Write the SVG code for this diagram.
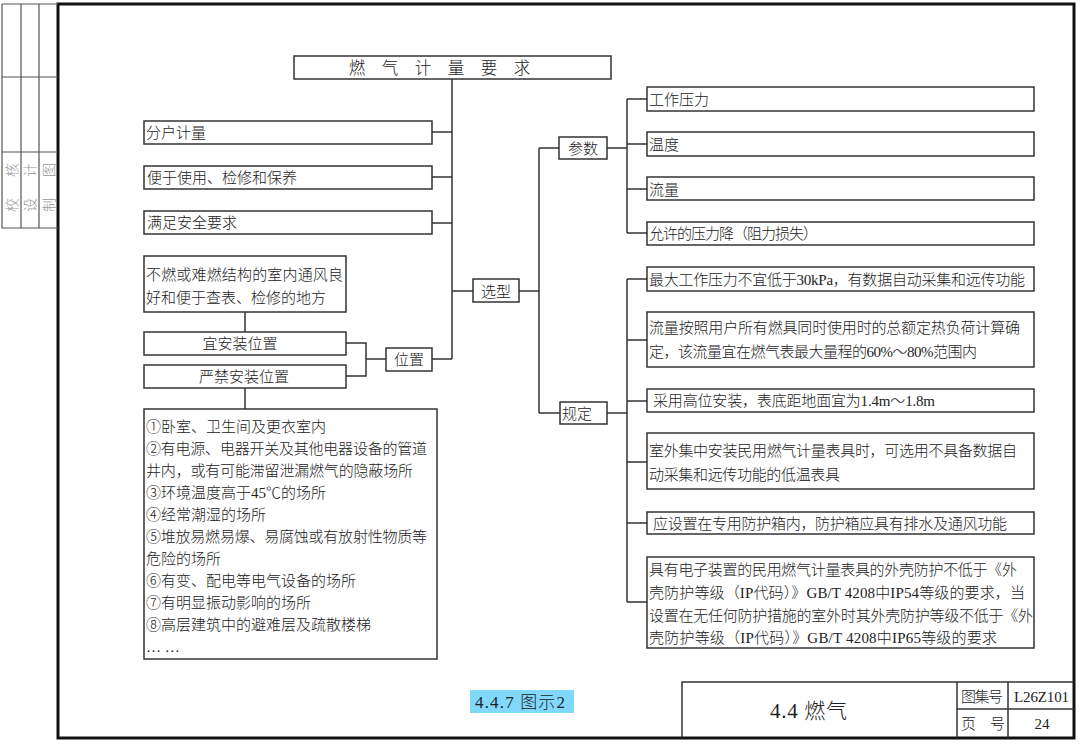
<svg xmlns="http://www.w3.org/2000/svg" width="1080" height="744" viewBox="0 0 1080 744">
<style>
.box{fill:#fff;stroke:#333;stroke-width:1.5}
.ln{fill:none;stroke:#333;stroke-width:1.5}
.frm{fill:none;stroke:#111;stroke-width:3}
.thin{fill:none;stroke:#555;stroke-width:1.2}
.t{font-family:"Liberation Serif","Noto Sans CJK SC",serif;font-size:15px;font-weight:300;fill:#222}
.m{text-anchor:middle}
.g{font-family:"Noto Sans CJK SC",sans-serif;font-size:14px;font-weight:300;fill:#999;text-anchor:middle}
</style>
<rect width="1080" height="744" fill="#fff"/>
<g id="frame">
<path class="frm" d="M58 4H1074V738H58Z"/>
<path class="thin" d="M2 4H58M2 4V228H58M21 4V228M39 4V228M2 77H58M2 152H58"/>
<text class="g" transform="translate(16.5 205) rotate(-90)">校</text>
<text class="g" transform="translate(16.5 170) rotate(-90)">核</text>
<text class="g" transform="translate(35 205) rotate(-90)">设</text>
<text class="g" transform="translate(35 170) rotate(-90)">计</text>
<text class="g" transform="translate(53.5 205) rotate(-90)">制</text>
<text class="g" transform="translate(53.5 170) rotate(-90)">图</text>
</g>
<g id="connectors">
<path class="ln" d="M452 79V359M432 132H452M432 177H452M432 223H452M452 291H473M432 359H452"/>
<path class="ln" d="M519 291H539M539 148V413M539 148H559M539 413H560"/>
<path class="ln" d="M607 148H627M627 99V233M627 99H647M627 144H647M627 189H647M627 233H647"/>
<path class="ln" d="M607 413H627M627 279V602M627 279H647M627 340H647M627 401H647M627 462H647M627 523H647M627 602H647"/>
<path class="ln" d="M245 312V332M245 388V409M346 343H366V376H346M366 359H386"/>
</g>
<g id="n-title">
<rect class="box" x="294" y="56" width="317" height="23"/>
<text class="t m" x="357 390 423 456 489 522" y="73.5" style="font-size:16.5px">燃气计量要求</text>
</g>
<g id="n-fenhu"><rect class="box" x="144" y="121" width="288" height="23"/><text class="t" x="146" y="137.5">分户计量</text></g>
<g id="n-bianyu"><rect class="box" x="144" y="166" width="288" height="23"/><text class="t" x="147" y="182.5">便于使用、检修和保养</text></g>
<g id="n-manzu"><rect class="box" x="144" y="211" width="288" height="23"/><text class="t" x="147" y="228">满足安全要求</text></g>
<g id="n-buran"><rect class="box" x="144" y="256" width="202" height="56"/>
<text class="t" x="146" y="279.5" textLength="197">不燃或难燃结构的室内通风良</text>
<text class="t" x="146" y="302.5">好和便于查表、检修的地方</text></g>
<g id="n-yi"><rect class="box" x="144" y="332" width="202" height="23"/><text class="t m" x="240" y="348.5">宜安装位置</text></g>
<g id="n-yanjin"><rect class="box" x="144" y="365" width="202" height="23"/><text class="t m" x="244" y="381.5">严禁安装位置</text></g>
<g id="n-weizhi"><rect class="box" x="386" y="348" width="46" height="23"/><text class="t m" x="409" y="364.5">位置</text></g>
<g id="n-xuanxing"><rect class="box" x="473" y="279" width="46" height="23"/><text class="t m" x="496" y="296.5">选型</text></g>
<g id="n-canshu"><rect class="box" x="559" y="137" width="48" height="22"/><text class="t m" x="583" y="153.5">参数</text></g>
<g id="n-guiding"><rect class="box" x="560" y="402" width="47" height="22"/><text class="t" x="562" y="418.5">规定</text></g>
<g id="n-list"><rect class="box" x="144" y="409" width="293" height="250"/>
<text class="t" x="146" y="431.5">①卧室、卫生间及更衣室内</text>
<text class="t" x="146" y="453.5" textLength="281">②有电源、电器开关及其他电器设备的管道</text>
<text class="t" x="146" y="475.5" textLength="267">井内，或有可能滞留泄漏燃气的隐蔽场所</text>
<text class="t" x="146" y="497.5">③环境温度高于45℃的场所</text>
<text class="t" x="146" y="519.5">④经常潮湿的场所</text>
<text class="t" x="146" y="541.5" textLength="281">⑤堆放易燃易爆、易腐蚀或有放射性物质等</text>
<text class="t" x="146" y="563.5">危险的场所</text>
<text class="t" x="146" y="585.5">⑥有变、配电等电气设备的场所</text>
<text class="t" x="146" y="607.5">⑦有明显振动影响的场所</text>
<text class="t" x="146" y="629.5">⑧高层建筑中的避难层及疏散楼梯</text>
<text class="t" x="146" y="651.5">… …</text>
</g>
<g id="n-p1"><rect class="box" x="647" y="87" width="387" height="24"/><text class="t" x="649" y="104.5">工作压力</text></g>
<g id="n-p2"><rect class="box" x="647" y="132" width="387" height="24"/><text class="t" x="649" y="149.5">温度</text></g>
<g id="n-p3"><rect class="box" x="647" y="177" width="387" height="23"/><text class="t" x="649" y="194.5">流量</text></g>
<g id="n-p4"><rect class="box" x="647" y="222" width="387" height="23"/><text class="t" x="649" y="238.5" textLength="169">允许的压力降（阻力损失）</text></g>
<g id="n-r1"><rect class="box" x="647" y="267" width="387" height="24"/><text class="t" x="649" y="284.5" textLength="376">最大工作压力不宜低于30kPa，有数据自动采集和远传功能</text></g>
<g id="n-r2"><rect class="box" x="647" y="312" width="387" height="55"/>
<text class="t" x="649" y="333" textLength="371">流量按照用户所有燃具同时使用时的总额定热负荷计算确</text>
<text class="t" x="649" y="356.5" textLength="328">定，该流量宜在燃气表最大量程的60%～80%范围内</text></g>
<g id="n-r3"><rect class="box" x="647" y="389" width="387" height="23"/><text class="t" x="653" y="405.5" textLength="282">采用高位安装，表底距地面宜为1.4m～1.8m</text></g>
<g id="n-r4"><rect class="box" x="647" y="433" width="387" height="56"/>
<text class="t" x="649" y="455.5" textLength="368">室外集中安装民用燃气计量表具时，可选用不具备数据自</text>
<text class="t" x="649" y="479.5" textLength="191">动采集和远传功能的低温表具</text></g>
<g id="n-r5"><rect class="box" x="647" y="512" width="387" height="22"/><text class="t" x="653" y="528.5" textLength="354">应设置在专用防护箱内，防护箱应具有排水及通风功能</text></g>
<g id="n-r6"><rect class="box" x="647" y="557" width="387" height="91"/>
<text class="t" x="649" y="574.5" textLength="368">具有电子装置的民用燃气计量表具的外壳防护不低于《外</text>
<text class="t" x="649" y="598" textLength="376">壳防护等级（IP代码）》GB/T 4208中IP54等级的要求，当</text>
<text class="t" x="649" y="620.5" textLength="384">设置在无任何防护措施的室外时其外壳防护等级不低于《外</text>
<text class="t" x="649" y="642.5" textLength="348">壳防护等级（IP代码）》GB/T 4208中IP65等级的要求</text></g>
<g id="caption">
<rect x="470" y="690" width="104" height="23" fill="#80D8FA"/>
<text class="t" x="475" y="708" style="font-size:17px" textLength="90">4.4.7 图示2</text>
</g>
<g id="titleblock">
<path class="ln" d="M682 738V682H1074M957 682V738M1008 682V738M957 709H1074"/>
<text class="t" x="770" y="718" style="font-size:21px" textLength="77">4.4 燃气</text>
<text class="t" x="961" y="701.5" textLength="42">图集号</text>
<text class="t" x="1014" y="701.5" textLength="55">L26Z101</text>
<text class="t" x="961" y="728.5">页</text>
<text class="t" x="990" y="728.5">号</text>
<text class="t m" x="1042" y="728.5">24</text>
</g>
</svg>
